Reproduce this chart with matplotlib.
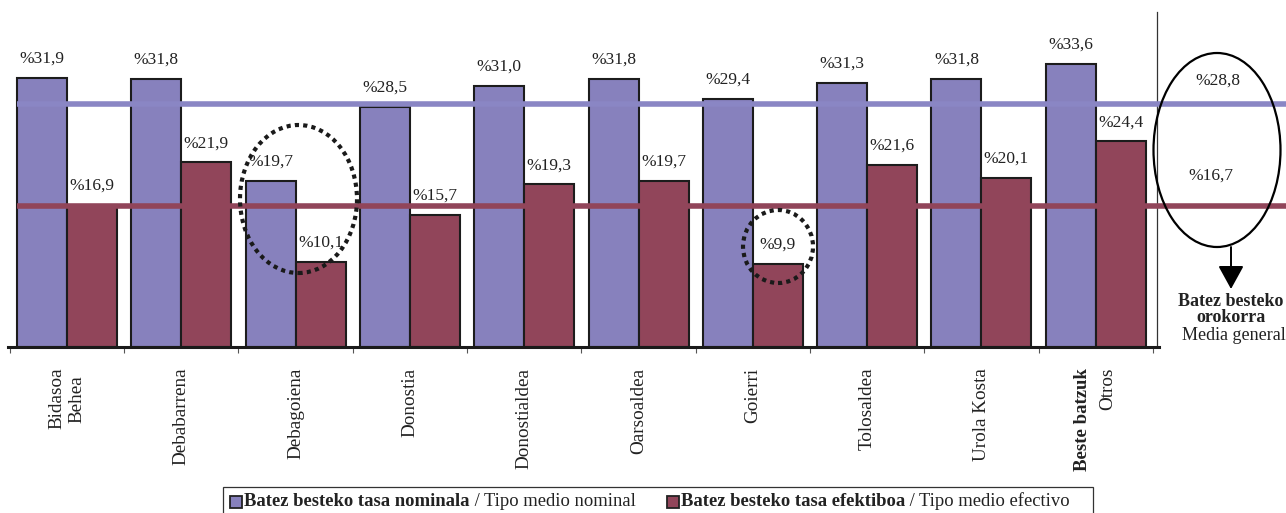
"""
Batez besteko tasa nominala eta efektiboa, eskualdeka.
"""
import numpy as np
import matplotlib.pyplot as plt
from matplotlib.patches import Ellipse, Rectangle

plt.rcParams['font.family'] = ['Liberation Serif', 'DejaVu Serif']

# --- data ---
regions = ['Bidasoa\nBehea', 'Debabarrena', 'Debagoiena', 'Donostia', 'Donostialdea',
           'Oarsoaldea', 'Goierri', 'Tolosaldea', 'Urola Kosta', '']
last_bold = 'Beste batzuk'
last_plain = 'Otros'
nominal = [31.9, 31.8, 19.7, 28.5, 31.0, 31.8, 29.4, 31.3, 31.8, 33.6]
effective = [16.9, 21.9, 10.1, 15.7, 19.3, 19.7, 9.9, 21.6, 20.1, 24.4]
avg_nominal = 28.8
avg_effective = 16.7

purple = '#8781BD'
maroon = '#91455A'
edge = '#1c1c1c'

W, H = 1286, 513
fig = plt.figure(figsize=(W / 100, H / 100), dpi=100)

# axes geometry (reference pixels): baseline at y=347, group pitch 114.3 px
base_px, pitch, unit = 347, 114.3, 8.43
x0_px = 67  # center of first group
ax = fig.add_axes([8 / W, (H - base_px) / H, (W - 8) / W, base_px / H])
xmin = (8 - x0_px) / pitch
xmax = xmin + (W - 8) / pitch
ax.set_xlim(xmin, xmax)
ax.set_ylim(0, base_px / unit)


def px2x(px):
    return (px - x0_px) / pitch


def px2y(py):
    return (base_px - py) / unit


n = len(nominal)
idx = np.arange(n)
w = 50 / pitch

b1 = ax.bar(idx - w / 2, nominal, w, color=purple, edgecolor=edge, linewidth=1.5, zorder=2)
b2 = ax.bar(idx + w / 2, effective, w, color=maroon, edgecolor=edge, linewidth=1.5, zorder=2)

for bars, vals in ((b1, nominal), (b2, effective)):
    for r, v in zip(bars, vals):
        ax.annotate('%' + f'{v:.1f}'.replace('.', ','),
                    (r.get_x() + r.get_width() / 2, v), xytext=(0, 8),
                    textcoords='offset points', ha='center', va='bottom',
                    fontsize=12.5, color='#222222', zorder=5)

# average lines over the bars
ax.plot([-w, xmax], [avg_nominal] * 2, color='#8A86C4', lw=4, solid_capstyle='butt', zorder=3)
ax.plot([-w, xmax], [avg_effective] * 2, color=maroon, lw=4, solid_capstyle='butt', zorder=3)

# separator for the general average panel
sep = n - 0.46
ax.plot([sep, sep], [0, px2y(12)], color='#333333', lw=0.9, zorder=1)

# axis styling
for s in ('top', 'left', 'right'):
    ax.spines[s].set_visible(False)
ax.spines['bottom'].set_linewidth(2.2)
ax.spines['bottom'].set_color('#1a1a1a')
ax.spines['bottom'].set_bounds(xmin, px2x(1159))
ax.set_yticks([])
ax.set_xticks(np.arange(n + 1) - 0.5)
ax.set_xticklabels([])
ax.tick_params(axis='x', which='major', length=4, width=0.8, color='#555555')
ax.set_xticks(idx, minor=True)
ax.set_xticklabels(regions, minor=True, rotation=90, fontsize=13.8, color='#222222')
ax.tick_params(axis='x', which='minor', length=0, pad=15)

ax.annotate(last_bold, (n - 1, 0), xytext=(-9.5, -15), textcoords='offset points',
            rotation=90, ha='center', va='top', fontsize=13.5, fontweight='bold',
            color='#222222', annotation_clip=False)
ax.annotate(last_plain, (n - 1, 0), xytext=(8.5, -15), textcoords='offset points',
            rotation=90, ha='center', va='top', fontsize=13.8, color='#222222',
            annotation_clip=False)

# general average panel
ax.annotate('%' + f'{avg_nominal:.1f}'.replace('.', ','), (px2x(1218), avg_nominal),
            xytext=(0, 17), textcoords='offset points', ha='center', va='center',
            fontsize=12.5, color='#222222')
ax.annotate('%' + f'{avg_effective:.1f}'.replace('.', ','), (px2x(1211), avg_effective),
            xytext=(0, 22), textcoords='offset points', ha='center', va='center',
            fontsize=12.5, color='#222222')
ax.add_patch(Ellipse((px2x(1217), px2y(150)), 127 / pitch, 194 / unit, fill=False,
                     edgecolor='black', lw=1.6, zorder=4, clip_on=False))
ax.annotate('', xy=(px2x(1231), px2y(289)), xytext=(px2x(1231), px2y(247)),
            arrowprops=dict(arrowstyle='-|>,head_length=0.4,head_width=0.22',
                            color='black', lw=1.4, mutation_scale=36, shrinkA=0, shrinkB=0))
ax.text(px2x(1231), px2y(301), 'Batez besteko', ha='center', va='center', fontsize=13,
        fontweight='bold', color='#222222', clip_on=False)
ax.text(px2x(1231), px2y(317), 'orokorra', ha='center', va='center', fontsize=13,
        fontweight='bold', color='#222222', clip_on=False)
ax.text(px2x(1234), px2y(336), 'Media general', ha='center', va='center', fontsize=13,
        color='#222222', clip_on=False)

# dotted highlight circles
ax.add_patch(Ellipse((px2x(298.5), px2y(199)), 117 / pitch, 148 / unit, fill=False,
                     edgecolor='#1a1a1a', lw=3, linestyle=(0, (1, 1)), zorder=6))
ax.add_patch(Ellipse((px2x(778), px2y(246.5)), 70 / pitch, 73 / unit, fill=False,
                     edgecolor='#1a1a1a', lw=3, linestyle=(0, (1, 1)), zorder=6))

# legend drawn by hand (mixed bold / plain labels)
fig.add_artist(Rectangle((223 / W, -0.05), (1093 - 223) / W, (1 - 487 / H) + 0.05,
                         transform=fig.transFigure, fill=False, edgecolor='#333333', lw=0.9))
renderer = fig.canvas.get_renderer()
legend_items = [(230, purple, 'Batez besteko tasa nominala', ' / Tipo medio nominal'),
                (667, maroon, 'Batez besteko tasa efektiboa', ' / Tipo medio efectivo')]
yc = 501
for cx, col, bold, plain in legend_items:
    fig.add_artist(Rectangle((cx / W, 1 - 508 / H), 12 / W, 12 / H, transform=fig.transFigure,
                             facecolor=col, edgecolor='#222222', lw=1.3))
    t1 = fig.text((cx + 14) / W, 1 - yc / H, bold, fontsize=13.4, fontweight='bold',
                  va='center', ha='left', color='#222222')
    x1 = t1.get_window_extent(renderer).x1
    fig.text(x1 / W, 1 - yc / H, plain, fontsize=13.4, va='center', ha='left',
             color='#222222')

fig.savefig('out.png', dpi=100)
